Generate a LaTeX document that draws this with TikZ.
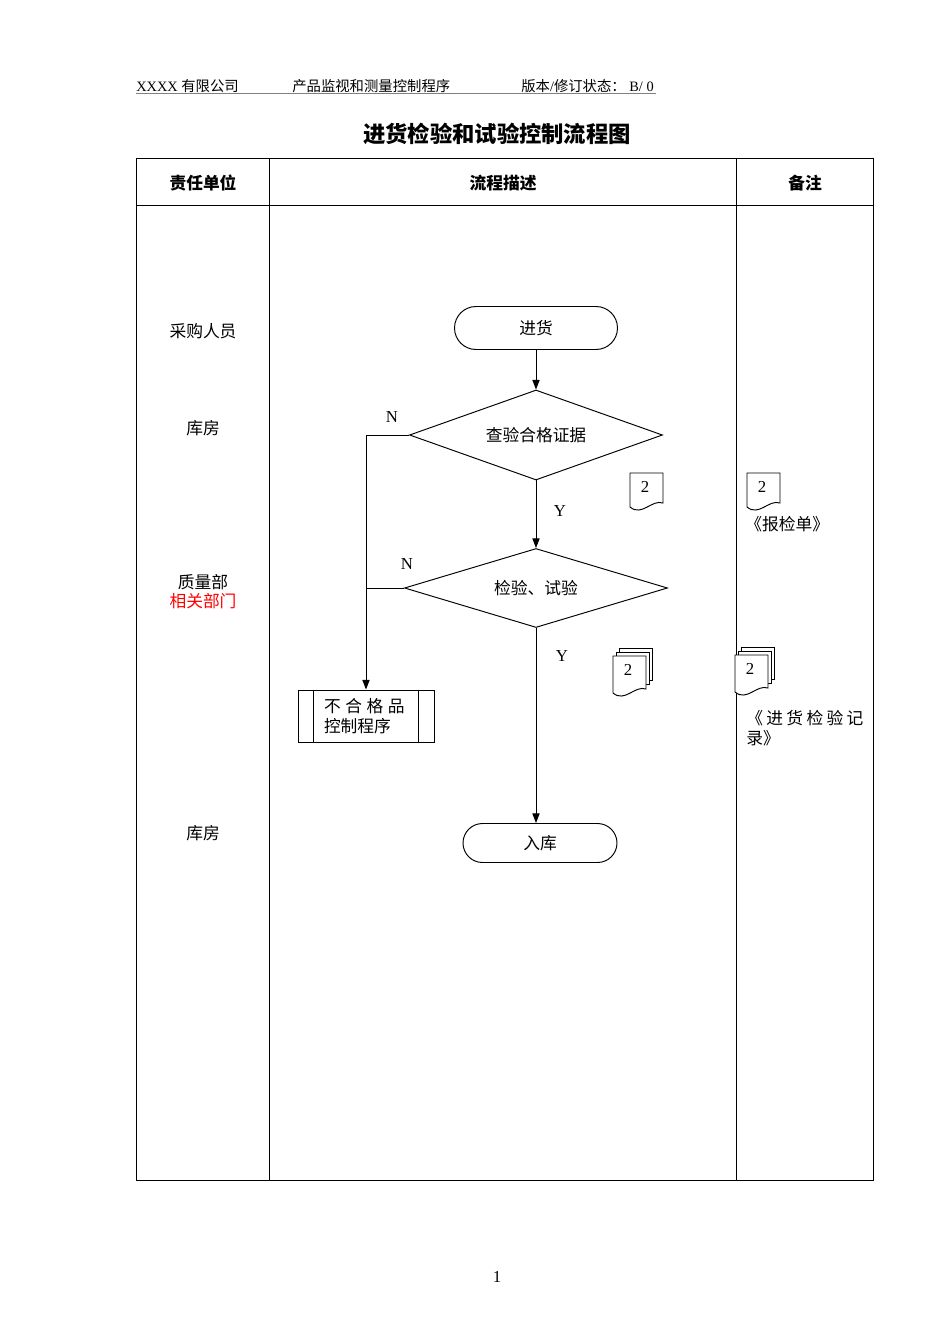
\documentclass[tikz,border=0pt]{standalone}
\usepackage{fontspec}
\setmainfont{Liberation Serif}
\newfontfamily\cjk{Noto Sans CJK SC}
\usetikzlibrary{shapes.geometric,shapes.misc,arrows.meta,positioning}

\newcommand{\pxu}{0.627pt}
% page symbol: x, y, width, height of the straight right edge
\newcommand{\docshape}[4]{%
  \draw[fill=white, line width=0.6pt] (#1,#2) -- (#1+#3,#2) -- (#1+#3,#2+#4)
    .. controls (#1+0.66*#3,#2+#4-4) and (#1+0.36*#3,#2+#4+14) .. (#1,#2+#4+4) -- cycle;
}
\newcommand{\docstack}[2]{%
  \draw[fill=white, line width=0.6pt] (#1+6,#2-8) rectangle (#1+39,#2+24);
  \draw[fill=white, line width=0.6pt] (#1+3,#2-4) rectangle (#1+36,#2+28);
  \docshape{#1}{#2}{33}{33}
}

\tikzset{
  txt/.style={inner sep=0pt, font=\cjk\fontsize{10.5pt}{12.6pt}\selectfont},
  hdr/.style={inner sep=0pt, font=\fontsize{9pt}{11pt}\selectfont},
  latin/.style={inner sep=0pt, font=\fontsize{10.5pt}{12.6pt}\selectfont},
  term/.style={rounded rectangle, draw, line width=0.6pt, txt},
  decide/.style={diamond, draw, aspect=2.8, line width=0.6pt, txt},
  proc/.style={rectangle, draw, line width=0.6pt, txt, align=left},
  arr/.style={-{Triangle[length=6pt,width=4.5pt]}, line width=0.6pt},
  rule/.style={line width=0.6pt}
}

\begin{document}
\begin{tikzpicture}[x=\pxu, y=-\pxu]
\useasboundingbox (0,0) rectangle (950,1344);

% page head
\node[hdr, anchor=west] (company) at (136,86) {XXXX {\cjk 有限公司}};
\node[hdr, anchor=west] (docname) at (292,86) {\cjk 产品监视和测量控制程序};
\node[hdr, anchor=west] (version) at (521,86) {{\cjk 版本}/{\cjk 修订状态：} B/ 0};
\draw[line width=0.5pt, gray] (136,93) -- (656,93);

\node[txt, font=\cjk\bfseries\fontsize{14pt}{16pt}\selectfont] (title) at (497,134) {进货检验和试验控制流程图};

% table
\draw[rule] (136,158) rectangle (873,1180);
\draw[rule] (269,158) -- (269,1180);
\draw[rule] (736,158) -- (736,1180);
\draw[rule] (136,205) -- (873,205);

\node[txt, font=\cjk\bfseries\fontsize{10.5pt}{12.6pt}\selectfont] (colunit) at (203,183) {责任单位};
\node[txt, font=\cjk\bfseries\fontsize{10.5pt}{12.6pt}\selectfont] (colflow) at (503,183) {流程描述};
\node[txt, font=\cjk\bfseries\fontsize{10.5pt}{12.6pt}\selectfont] (colnote) at (805,183) {备注};

% responsible units
\node[txt] (buyer) at (203,331) {采购人员};
\node[txt] (store1) at (203,428) {库房};
\node[txt] (quality) at (203,582) {质量部};
\node[txt, text=red] (related) at (203,601) {相关部门};
\node[txt] (store2) at (203,833) {库房};

% flow
\node[term, minimum width=163*\pxu, minimum height=43*\pxu] (start) at (536,328) {进货};
\node[decide, minimum width=253*\pxu, minimum height=90*\pxu] (check) at (536,435) {查验合格证据};
\node[decide, minimum width=263*\pxu, minimum height=79*\pxu] (inspect) at (536,588) {检验、试验};
\node[proc, text width=84*\pxu, minimum width=136*\pxu, minimum height=52*\pxu] (reject) at (366,716)
  {\hbox to 50.5pt{不\hfill 合\hfill 格\hfill 品}\\控制程序};
\node[term, minimum width=154*\pxu, minimum height=39*\pxu] (store) at (540,843) {入库};

\draw[rule] ([xshift=16*\pxu]reject.north west) -- ([xshift=16*\pxu]reject.south west);
\draw[rule] ([xshift=-16*\pxu]reject.north east) -- ([xshift=-16*\pxu]reject.south east);

\draw[arr] (start.south) -- (check.north);
\draw[arr] (check.south) -- (inspect.north);
\draw[arr] (inspect.south) -- (inspect.south |- store.north);
\draw[arr] (check.west) -| (reject.north);
\draw[rule] (inspect.west) -- (inspect.west -| reject.north);

\node[latin] (nlab1) at (392,417) {N};
\node[latin] (ylab1) at (560,511) {Y};
\node[latin] (nlab2) at (407,564) {N};
\node[latin] (ylab2) at (562,656) {Y};

% records
\docshape{630}{473}{33}{30}
\node[latin] (doc1) at (645,487) {2};
\docstack{613}{656}
\node[latin] (doc2) at (628,670) {2};

\docshape{747}{473}{33}{30}
\node[latin] (doc3) at (762,487) {2};
\node[txt, anchor=west] (form1) at (745,524) {《报检单》};
\docstack{735}{655}
\node[latin] (doc4) at (750,669) {2};
\node[txt, anchor=north west, align=left] (form2) at (746,710)
  {\hbox to 73.4pt{《\hfill 进\hfill 货\hfill 检\hfill 验\hfill 记}\\录》};

\node[latin] (pageno) at (497,1277) {1};
\end{tikzpicture}
\end{document}
